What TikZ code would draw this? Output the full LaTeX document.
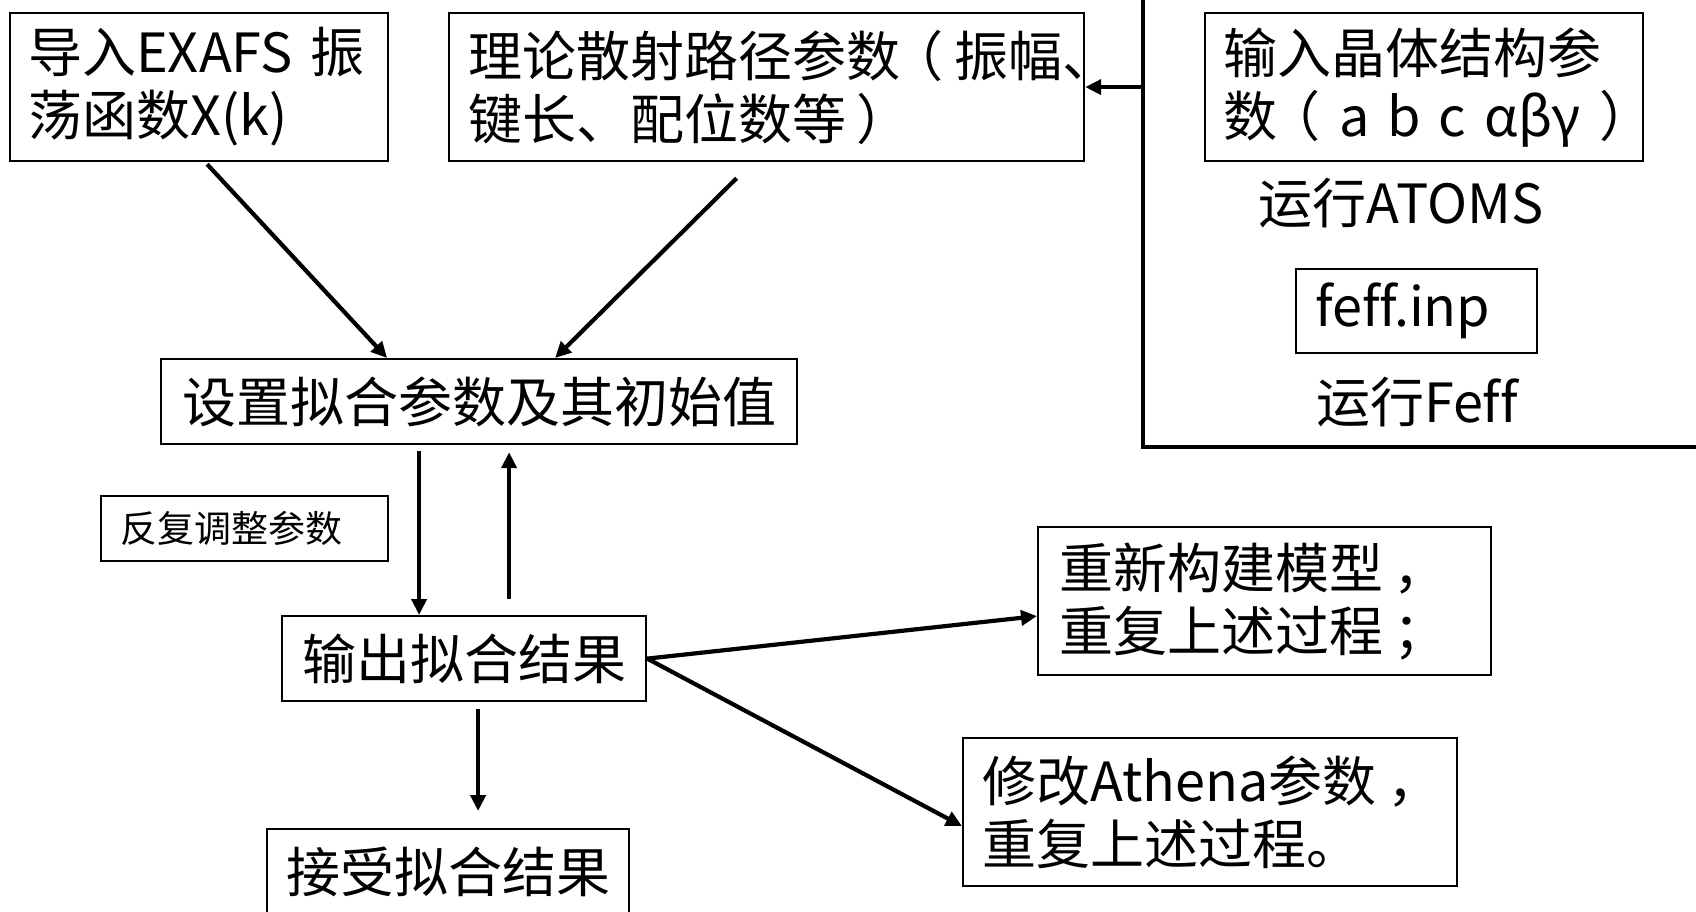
\documentclass[tikz,border=0pt]{standalone}
\usepackage{fontspec}
\setmainfont{Noto Sans CJK SC}[Ligatures=NoCommon]
\usetikzlibrary{arrows.meta}
\newcommand{\lp}{\kern-0.2em（\kern0.2em}
\newcommand{\rp}{\kern0.2em）\kern-0.2em}
\begin{document}
\begin{tikzpicture}[x=1pt,y=-1pt,
  box/.style={draw=black, line width=2.2pt, anchor=north west, inner xsep=18pt, inner ysep=0pt, align=left, font=\fontsize{54}{63}\selectfont},
  cbox/.style={draw=black, line width=2.2pt, anchor=north west, inner sep=0pt, align=center, font=\fontsize{54}{63}\selectfont},
  lbl/.style={inner sep=0pt, font=\fontsize{54}{63}\selectfont},
  arr/.style={line width=4.2pt, -{Triangle[length=16pt,width=15pt]}},
  bigline/.style={line width=4.8pt}
]
\useasboundingbox (0,0) rectangle (1696,911);
% top row
\node[box, text width=342pt, minimum width=378pt, minimum height=148pt] (b1) at (9,12) {导入EXAFS~振\\荡函数X(k)};
\node[box, inner xsep=19pt, text width=597pt, minimum width=635pt, minimum height=148pt] (b2) at (448,12) {理论散射路径参数\lp 振幅、\\键长、配位数等\rp};
\node[box, text width=402pt, minimum width=438pt, minimum height=148pt] (b3) at (1204,12) {输入晶体结构参\\数\lp\kern0.15em a~b~c~αβγ\kern0.15em\rp};
\node[lbl] (atoms) at (1401,203) {运行ATOMS};
\node[box, inner xsep=19pt, text width=203pt, minimum width=241pt, minimum height=84pt] (feffinp) at (1295,268) {fef\kern0pt f.inp};
\node[lbl] (feff) at (1417,402) {运行Fef\kern0pt f};
% big bracket box
\coordinate (bbtop) at (1143,-10);
\coordinate (bbcorner) at (1143,447);
\coordinate (bbright) at (1710,447);
\draw[bigline] (bbtop) -- (bbcorner) -- (bbright);
% middle
\node[cbox, minimum width=636pt, minimum height=85pt] (set) at (160,358) {设置拟合参数及其初始值};
\node[box, inner xsep=19pt, text width=249pt, minimum width=287pt, minimum height=65pt, font=\fontsize{37}{44}\selectfont] (rep) at (100,495) {反复调整参数};
\node[cbox, minimum width=364pt, minimum height=85pt] (out) at (281,615) {输出拟合结果};
\node[cbox, minimum width=362pt, minimum height=86pt] (acc) at (266,828) {接受拟合结果};
\node[box, inner xsep=21pt, text width=411pt, minimum width=453pt, minimum height=148pt] (rebuild) at (1037,526) {重新构建模型\kern0.2em，\\重复上述过程\kern0.2em；};
\node[box, inner xsep=19pt, text width=456pt, minimum width=494pt, minimum height=148pt] (athena) at (962,737) {修改Athena参数\kern0.2em，\\重复上述过程。};
% arrows
\draw[arr] ([xshift=8pt,yshift=-2pt]b1.south) -- ([xshift=-92pt]set.north);
\draw[arr] ([xshift=-30pt,yshift=-16pt]b2.south) -- ([xshift=76pt]set.north);
\draw[arr] (bbcorner |- b2.east) -- (b2.east);
\draw[arr] ([xshift=-60pt,yshift=-6pt]set.south) -- ([xshift=-45pt]out.north);
\draw[arr] ([xshift=45pt,yshift=16pt]out.north) -- ([xshift=30pt,yshift=-7pt]set.south);
\draw[arr] ([xshift=14pt,yshift=-7pt]out.south) -- ([xshift=30pt,yshift=17pt]acc.north);
\draw[arr] (out.east) -- ([yshift=-15pt]rebuild.west);
\draw[arr] (out.east) -- ([yshift=-14pt]athena.west);
\end{tikzpicture}
\end{document}
